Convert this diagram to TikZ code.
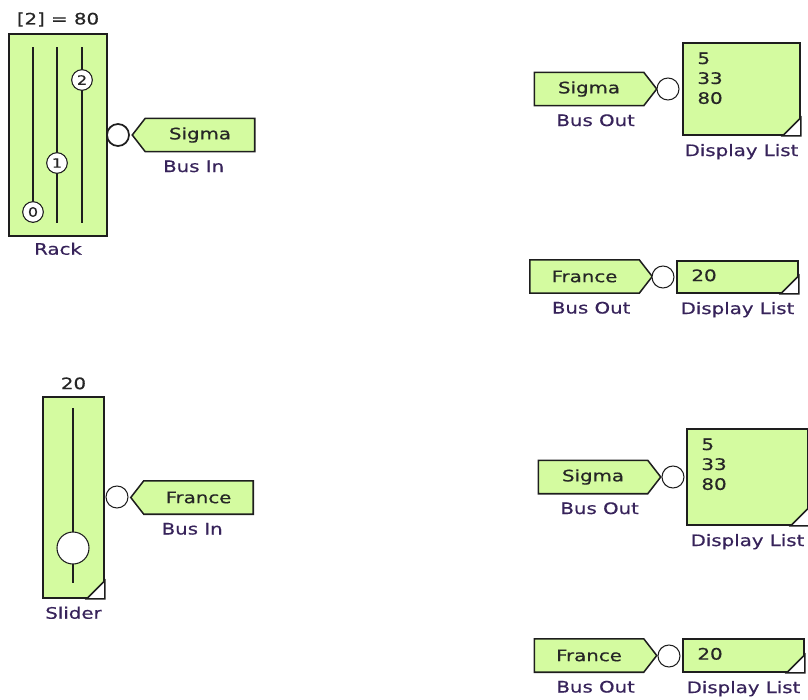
\documentclass[tikz,border=0pt]{standalone}
\usepackage{fontspec}
\newfontfamily\blockfont[FakeStretch=1.25, FakeBold=0.5]{DejaVu Sans}
\usetikzlibrary{
  positioning,
  calc,
  backgrounds
}
\definecolor{blockfill}{RGB}{212,251,160}
\definecolor{blockline}{RGB}{30,30,30}
\definecolor{captext}{RGB}{55,35,90}

\begin{document}
\begin{tikzpicture}[
  x=0.03cm, y=-0.03cm,
  every node/.style={font=\blockfont\fontsize{13.5}{17}\selectfont, text=black!85},
  block/.style={draw=blockline, fill=blockfill, line width=1.3pt, inner sep=0pt},
  busbody/.style={inner sep=0pt, minimum width=3.27cm, minimum height=0.99cm},
  port/.style={circle, draw=blockline, fill=white, line width=0.9pt,
               minimum size=0.66cm, inner sep=0pt},
  knob/.style={circle, draw=blockline, fill=white, line width=0.9pt,
               minimum size=0.62cm, inner sep=0pt,
               font=\blockfont\fontsize{11}{11}\selectfont},
  track/.style={draw=blockline, line width=1.4pt},
  caption/.style={text=captext, inner sep=0pt, text height=10pt, text depth=3pt},
  value/.style={inner sep=0pt, text height=10pt, text depth=3pt}
]
\useasboundingbox (0,0) rectangle (808,700);

% Rack
\node[block, minimum width=2.94cm, minimum height=6.06cm] (rack) at (58,135) {};
\foreach \t/\x/\y in {0/33/212, 1/57/163, 2/82/80} {
  \draw[track] (\x,47) -- (\x,223);
  \node[knob] (knob\t) at (\x,\y) {\t};
}
\node[value, above=0.15cm of rack] (rackval) {[2] = 80};
\node[caption, below=0.18cm of rack] (racklbl) {Rack};
\node[port, line width=1.5pt] (rackport) at (118,135) {};
\node[busbody] (busin1) at (200,135) {Sigma};
\node[caption, below=0.25cm of busin1, xshift=-0.19cm] (busin1lbl) {Bus In};

% Slider
\node[block, minimum width=1.83cm, minimum height=6.03cm] (slider) at (73.5,497.5) {};
\draw[track] (73,408) -- (73,583);
\node[knob, minimum size=0.96cm] (sliderknob) at (73,548) {};
\node[value, above=0.1cm of slider] (sliderval) {20};
\node[caption, below=0.24cm of slider] (sliderlbl) {Slider};
\node[port] (sliderport) at (117,497) {};
\node[busbody] (busin2) at (198.5,497.5) {France};
\node[caption, below=0.25cm of busin2, xshift=-0.19cm] (busin2lbl) {Bus In};

% Bus outs
\node[busbody] (busout1) at (589,89) {Sigma};
\node[busbody] (busout2) at (584.5,276.5) {France};
\node[busbody] (busout3) at (593,477) {Sigma};
\node[busbody] (busout4) at (589,655.5) {France};
\foreach \b/\x/\y in {busout1/668/89, busout2/663/277, busout3/673/477, busout4/669/656} {
  \node[port] (\b port) at (\x,\y) {};
  \node[caption, below=0.25cm of \b, xshift=0.2cm] (\b lbl) {Bus Out};
}

% Display lists
\node[block, minimum width=3.51cm, minimum height=2.76cm] (list1) at (741.5,89) {};
\node[block, minimum width=3.63cm, minimum height=0.96cm] (list2) at (737.5,277) {};
\node[block, minimum width=3.63cm, minimum height=2.88cm] (list3) at (747.5,477) {};
\node[block, minimum width=3.63cm, minimum height=0.99cm] (list4) at (743.5,655.5) {};
\node[anchor=north west, align=left, inner sep=0pt] (list1val)
  at ($(list1.north west)+(15,10)$) {5\\33\\80};
\node[anchor=west, value] (list2val) at ($(list2.west)+(15,0)$) {20};
\node[anchor=north west, align=left, inner sep=0pt] (list3val)
  at ($(list3.north west)+(15,10)$) {5\\33\\80};
\node[anchor=west, value] (list4val) at ($(list4.west)+(15,0)$) {20};
\foreach \n in {list1,list2,list3,list4} {
  \node[caption, below=0.25cm of \n] (\n lbl) {Display List};
}

% Corner marks
\foreach \n in {list1,list2,list3,list4,slider} {
  \draw[block, fill=white] ($(\n.south east)+(0,-18)$) -- (\n.south east)
    -- ($(\n.south east)+(-18,0)$) -- cycle;
}

% Bus outlines
\begin{scope}[on background layer]
  \foreach \b in {busin1,busin2} {
    \draw[block] (\b.north west) -- (\b.north east) -- (\b.south east)
      -- (\b.south west) -- ($(\b.west)+(-13,0)$) -- cycle;
  }
  \foreach \b in {busout1,busout2,busout3,busout4} {
    \draw[block] (\b.south west) -- (\b.north west) -- (\b.north east)
      -- ($(\b.east)+(13,0)$) -- (\b.south east) -- cycle;
  }
\end{scope}

\end{tikzpicture}
\end{document}
